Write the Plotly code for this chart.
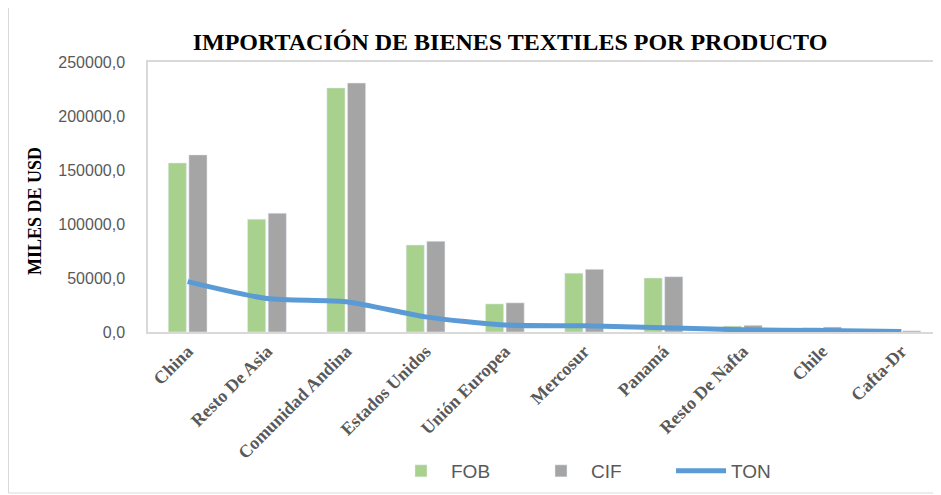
import plotly.graph_objects as go

regiones = ["China", "Resto De Asia", "Comunidad Andina", "Estados Unidos", "Unión Europea",
            "Mercosur", "Panamá", "Resto De Nafta", "Chile", "Cafta-Dr"]
fob = [156500, 104500, 226000, 80500, 26000, 54500, 50000, 5500, 4000, 1000]
cif = [164000, 110000, 230500, 84000, 27000, 58000, 51200, 6200, 4600, 1100]
ton = [46600, 31000, 28000, 14000, 6500, 5800, 4000, 2000, 1300, 500]

# la página añade 8 px de margen al cuerpo
OFF = 8
W, H = 941 - OFF, 495 - OFF
L, R, T, B = 148 - OFF, 0, 62 - OFF, 495 - 332
pw = W - L - R
ph = H - T - B


def px_x(x):
    return (x - OFF - L) / pw


def px_y(y):
    return (H - B - (y - OFF)) / ph


fig = go.Figure()
fig.add_trace(go.Bar(x=regiones, y=fob, name="FOB", marker=dict(color="#a9d18e")))
fig.add_trace(go.Bar(x=regiones, y=cif, name="CIF", marker=dict(color="#a5a5a5")))
fig.add_trace(go.Scatter(x=regiones, y=ton, name="TON", mode="lines",
                         line=dict(color="#5b9bd5", width=5, shape="spline", smoothing=0.7)))

# borde exterior del gráfico
fig.add_shape(type="rect", xref="paper", yref="paper",
              x0=px_x(8.5), x1=px_x(1000), y0=px_y(493), y1=px_y(4.5),
              line=dict(color="#d9d9d9", width=1), layer="below")

# título del eje Y
fig.add_annotation(text="MILES DE USD", xref="paper", yref="paper",
                   x=px_x(35), y=px_y(211), xanchor="center", yanchor="middle",
                   textangle=-90, showarrow=False,
                   font=dict(family="Liberation Serif", size=18, color="black", weight="bold"))

fig.update_layout(
    width=W, height=H, autosize=False,
    margin=dict(l=L, r=R, t=T, b=B),
    paper_bgcolor="white", plot_bgcolor="white",
    separators=", ",
    title=dict(text="IMPORTACIÓN DE BIENES TEXTILES POR PRODUCTO", automargin=False,
               xref="paper", x=px_x(510), xanchor="center",
               yref="container", y=1 - (42 - OFF) / H, yanchor="middle",
               font=dict(family="Liberation Serif", size=24, color="black", weight="bold")),
    barmode="group", bargap=0.48, bargroupgap=0.12,
    legend=dict(orientation="h", x=px_x(601), xanchor="center",
                y=px_y(471), yanchor="middle", entrywidth=75, itemwidth=50,
                font=dict(family="Liberation Sans", size=19, color="#595959")),
    xaxis=dict(type="category", showline=True, linecolor="#d9d9d9", linewidth=1.5,
               mirror=True, showgrid=False, ticks="", tickangle=-45, automargin=False,
               range=[-0.5, 9.5],
               tickfont=dict(family="Liberation Serif", size=18, color="#595959", weight="bold")),
    yaxis=dict(range=[0, 250000], dtick=50000, tickformat=".1f", showgrid=False,
               showline=True, linecolor="#d9d9d9", linewidth=1.5, ticks="", automargin=False,
               ticklabelstandoff=18, zeroline=False,
               tickfont=dict(family="Liberation Sans", size=16, color="#595959")),
)

fig.write_html("out.html")
